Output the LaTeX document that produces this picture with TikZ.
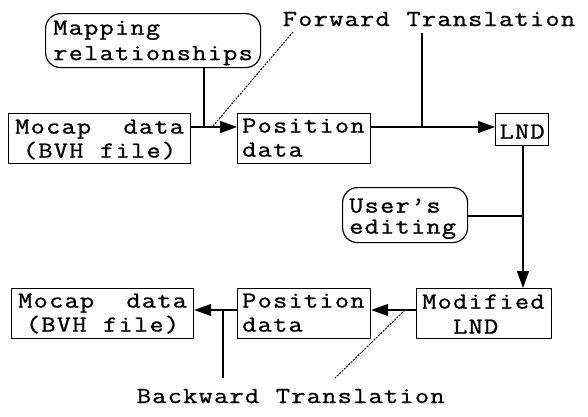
\documentclass[tikz,border=0pt]{standalone}
\usepackage{fontspec}
\newfontfamily\monof[FakeStretch=1.2,FakeBold=1]{Latin Modern Mono}
\usetikzlibrary{arrows.meta}
\newcommand\cellw{\hspace*{15.45pt}}
\makeatletter
\def\cells#1{\cells@a#1\relax}
\def\cells@a#1{\ifx#1\relax\else\makebox[15.45pt]{#1}\expandafter\cells@a\fi}
\makeatother
\begin{document}
\begin{tikzpicture}[x=1pt,y=-1pt,
  box/.style={draw, line width=1.2pt, rectangle, inner ysep=0pt, align=left,
    font=\monof\fontsize{23}{24}\selectfont},
  rbox/.style={box, rounded corners=15pt},
  lbl/.style={inner sep=0pt, font=\monof\fontsize{23}{24}\selectfont},
  conn/.style={line width=1.2pt},
  arr/.style={conn, -{Triangle[length=17pt,width=12pt]}},
  leader/.style={line width=1pt, dash pattern=on 2pt off 1.2pt}]
\useasboundingbox (0,0) rectangle (588,416);
% boxes
\node[box, text width=170pt, inner xsep=6pt, text height=20pt, text depth=30pt, anchor=north west] (mocapA) at (8,113)
  {\cells{Mocap}\hfill\cells{data}\\\hspace*{7.7pt}\cells{(BVH~file)}};
\node[box, text width=125pt, inner xsep=4pt, text height=19pt, text depth=31pt, anchor=north west] (posA) at (237,113)
  {\cells{Position}\\\cells{data}};
\node[box, align=center, inner xsep=0pt, minimum width=53pt, text height=25pt, text depth=7pt, anchor=north west] (lnd) at (495,113)
  {\cells{LND}};
\node[rbox, text width=201pt, inner xsep=7pt, text height=21pt, text depth=33pt, anchor=north west,
  font=\monof\fontsize{23}{25.5}\selectfont] (mapping) at (45,13)
  {\cells{Mapping}\\\cells{relationships}};
\node[rbox, text width=113pt, inner xsep=6pt, text height=25pt, text depth=30pt, anchor=north west,
  font=\monof\fontsize{23}{21}\selectfont] (users) at (342,187)
  {\cells{User’s}\\\cells{editing}};
\node[box, text width=125pt, inner xsep=5pt, text height=20pt, text depth=30pt, anchor=north west,
  font=\monof\fontsize{23}{25}\selectfont] (modlnd) at (416,288)
  {\cells{Modified}\\\cellw\cellw\cells{LND}};
\node[box, text width=125pt, inner xsep=4pt, text height=19pt, text depth=31pt, anchor=north west] (posB) at (237,288)
  {\cells{Position}\\\cells{data}};
\node[box, text width=170pt, inner xsep=6pt, text height=19pt, text depth=31pt, anchor=north west] (mocapB) at (11,288)
  {\cells{Mocap}\hfill\cells{data}\\\hspace*{7.7pt}\cells{(BVH~file)}};
% labels
\node[lbl, anchor=base west] (fwd) at (282,26) {\cells{Forward~Translation}};
\node[lbl, anchor=base west] (bwd) at (136,403) {\cells{Backward~Translation}};
% coordinates
\coordinate (j1) at (204,127);
\coordinate (j2) at (422,127);
\coordinate (f1) at (422,33);
\coordinate (f2) at (293,32);
\coordinate (f3) at (213,126);
\coordinate (vx) at (523,0);
\coordinate (j3) at (523,216);
\coordinate (j4) at (223,310);
\coordinate (b1) at (223,378);
\coordinate (b2) at (405,310);
\coordinate (b3) at (335,378);
% connectors
\draw[arr] (mocapA.east |- j1) -- (posA.west |- j1);
\draw[conn] (mapping.south -| j1) -- (j1);
\draw[leader] (f2) -- (f3);
\draw[arr] (posA.east |- j1) -- (lnd.west |- j1);
\draw[conn] (f1) -- (j2);
\draw[arr] (lnd.south -| vx) -- (modlnd.north -| vx);
\draw[conn] (users.east |- j3) -- (j3);
\draw[arr] (modlnd.west |- j4) -- (posB.east |- j4);
\draw[arr] (posB.west |- j4) -- (mocapB.east |- j4);
\draw[conn] (j4) -- (b1);
\draw[leader] (b2) -- (b3);
\end{tikzpicture}
\end{document}
